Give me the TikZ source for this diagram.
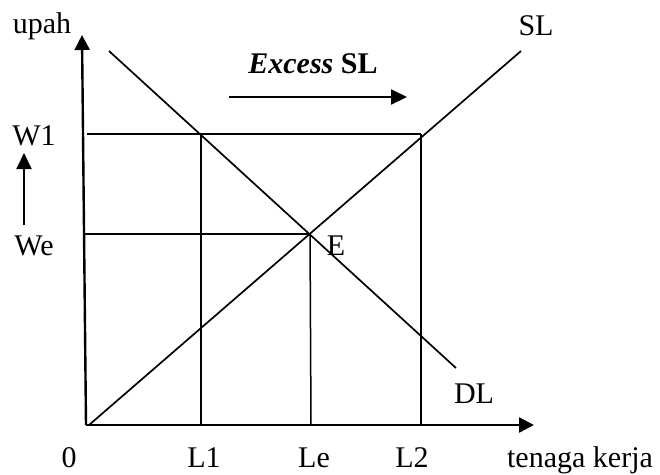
\documentclass[tikz,border=0pt]{standalone}
\usepackage{fontspec}
\setmainfont{Liberation Serif}
\usetikzlibrary{arrows.meta}
\begin{document}
\begin{tikzpicture}[x=1pt,y=-1pt,
  axis/.style={line width=2.4pt,-{Triangle[length=15pt,width=15pt]}},
  curve/.style={line width=1.7pt},
  guide/.style={line width=1.5pt},
  lbl/.style={inner sep=0pt,anchor=base,font=\fontsize{30}{34}\selectfont},
  shiftarrow/.style={line width=2pt,-{Triangle[length=16pt,width=15pt]}}]
\useasboundingbox (0,0) rectangle (660,474);
% points
\coordinate (O) at (86,425);
\coordinate (Ytop) at (82,35);
\coordinate (Xend) at (534,425);
\coordinate (SLs) at (89,425);
\coordinate (SLe) at (521,51);
\coordinate (DLs) at (109,51);
\coordinate (DLe) at (456,368);
\coordinate (E) at (310,234);
\coordinate (W1a) at (87,134);
\coordinate (Wea) at (84,234);
\coordinate (L1top) at (201,134);
\coordinate (L2top) at (421,134);
\coordinate (L1b) at (201,425);
\coordinate (Leb) at (311,425);
\coordinate (L2b) at (421,425);
\coordinate (ExA) at (229,97);
\coordinate (ExB) at (407,97);
\coordinate (WarA) at (24,225);
\coordinate (WarB) at (24,153);
% guides
\draw[guide] (W1a) -- (L2top);
\draw[guide] (Wea) -- (E);
\draw[guide] (L1top) -- (L1b);
\draw[guide] (E) -- (Leb);
\draw[guide] (L2top) -- (L2b);
% curves
\draw[curve] (SLs) -- (SLe);
\draw[curve] (DLs) -- (DLe);
% axes
\draw[axis] (O) -- (Ytop);
\draw[axis] (O) -- (Xend);
% arrows
\draw[shiftarrow] (ExA) -- (ExB);
\draw[shiftarrow] (WarA) -- (WarB);
% labels
\node[lbl] (upah) at (42,33) {upah};
\node[lbl] (w1) at (34,145) {W1};
\node[lbl] (we) at (34,255) {We};
\node[lbl] (elbl) at (336,255) {E};
\node[lbl] (excess) at (313,73) {\textbf{\textit{Excess}} \textbf{SL}};
\node[lbl] (sl) at (536,35) {SL};
\node[lbl] (dl) at (474,403) {DL};
\node[lbl] (zero) at (69,467) {0};
\node[lbl] (l1) at (204,467) {L1};
\node[lbl] (le) at (314,467) {Le};
\node[lbl] (l2) at (412,467) {L2};
\node[lbl] (tk) at (580,467) {tenaga kerja};
\end{tikzpicture}
\end{document}
